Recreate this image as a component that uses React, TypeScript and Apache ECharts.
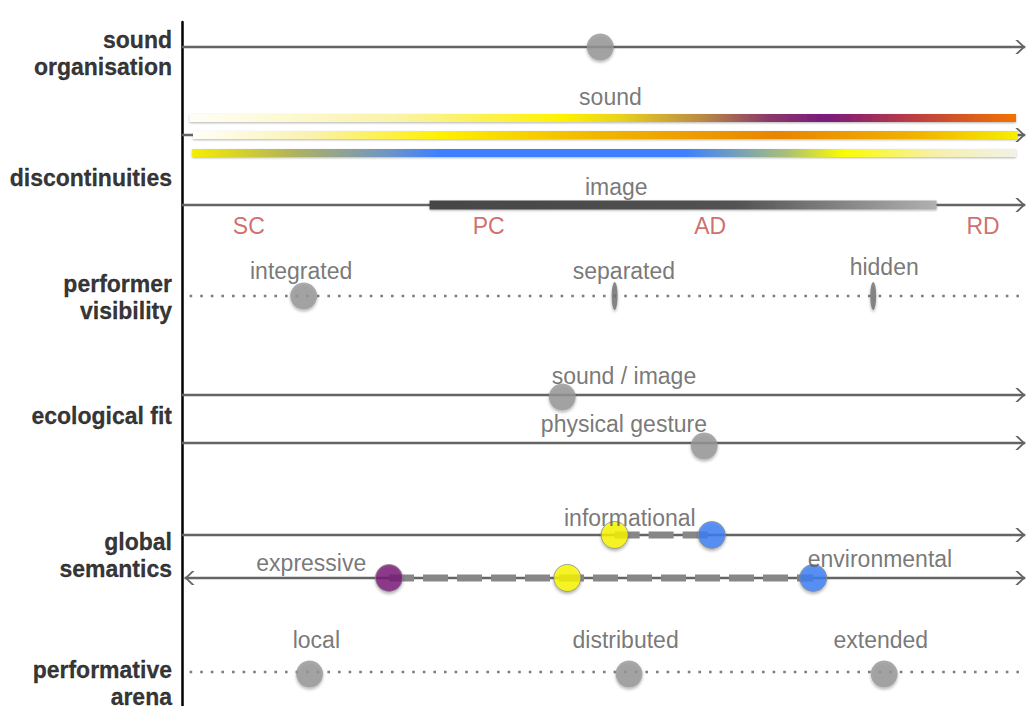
import React, { useEffect, useRef } from "react";
import * as echarts from "echarts";

// ---- data (x = position along each continuum, 0..100; y = track level on the page) ----
const rowLabels = ["sound\norganisation", "discontinuities", "performer\nvisibility", "ecological fit", "global\nsemantics", "performative\narena"];
const rowLabelY = [53, 178, 297, 416, 555, 683];

const solidTrackY = [47, 135, 205, 395, 443, 535];
const doubleArrowTrackY = [578];
const dottedTrackY = [296, 672];

const greyDotNames = ["real-time effort", "sound / image", "physical gesture", "integrated", "local", "distributed", "extended"];
const greyDotX = [49.5, 45.0, 61.8, 14.4, 15.1, 52.9, 83.1];
const greyDotY = [47, 397, 446, 296, 674, 674, 674];

const slimMarkerNames = ["separated", "hidden"];
const slimMarkerX = [51.2, 81.8];
const slimMarkerY = [296, 296];

const informationalX = [51.2, 62.7];
const informationalY = 535;
const expressiveX = [24.5, 45.6, 74.7];
const expressiveY = 578;
const semanticColours = ["yellow", "blue", "purple", "yellow", "blue"];

const bandStart = [0.9, 1.3, 1.2];
const bandEnd = [98.7, 98.9, 98.7];
const bandY = [118, 135, 153];

const imageBar = [29.3, 89.3, 205];

const textLabels = ["real-time effort", "sound", "image", "integrated", "separated", "hidden", "sound / image", "physical gesture", "informational", "expressive", "environmental", "local", "distributed", "extended"];
const textLabelX = [50.4, 50.7, 51.4, 14.1, 52.3, 83.1, 52.3, 52.3, 53.0, 15.3, 82.6, 15.9, 52.5, 82.7];
const textLabelY = [19, 97, 187, 271, 271, 267, 376, 424, 518, 563, 559, 640, 640, 640];

const stageLabels = ["SC", "PC", "AD", "RD"];
const stageX = [7.9, 36.3, 62.5, 94.8];
const stageY = 226;

// ---- styles ----
const BAND_STOPS = [
  [[0, "#fffef6"], [0.25, "#faf3a8"], [0.45, "#fff200"], [0.52, "#ead21e"], [0.62, "#b98a45"], [0.7, "#8a3a6a"], [0.77, "#7a1a7c"], [0.86, "#b4384c"], [1, "#f27300"]],
  [[0, "#fffff8"], [0.14, "#faf2b0"], [0.3, "#fff000"], [0.48, "#f2b900"], [0.71, "#e98500"], [0.88, "#f1b400"], [1, "#f7ee00"]],
  [[0, "#f5ee00"], [0.12, "#b3b35a"], [0.24, "#6d94c8"], [0.3, "#3d80ff"], [0.6, "#3d80ff"], [0.72, "#a9be78"], [0.79, "#fbfb00"], [0.9, "#f6f0a8"], [1, "#f2f2e6"]],
];
const IMAGE_STOPS = [[0, "#464646"], [0.6, "#525252"], [1, "#b0b0b0"]];
const COLOURS: Record<string, string> = { yellow: "#fbf700", blue: "#3b80f6", purple: "#7a1a78" };
const LINE_COLOR = "#646464";
const CHEVRON = "path://M0,0 L2.6,0 L10,7 L2.6,14 L0,14 L7.4,7 Z";
const FONT = "'Liberation Sans', Arial, Helvetica, sans-serif";

const dotShadow = { shadowColor: "rgba(0,0,0,0.35)", shadowBlur: 3, shadowOffsetY: 2 };

function buildOption() {
  const series: any[] = [];
  const END = 99.8;

  solidTrackY.forEach((y, i) => {
    series.push({
      type: "line", name: "track" + i, z: 2, showSymbol: true, silent: true,
      lineStyle: { color: LINE_COLOR, width: 2.5 },
      itemStyle: { color: LINE_COLOR },
      data: [
        { value: [0, y], symbol: "none" },
        { value: [END, y], symbol: CHEVRON, symbolSize: [10, 14], symbolOffset: [-5, 0] },
      ],
    });
  });
  doubleArrowTrackY.forEach((y, i) => {
    series.push({
      type: "line", name: "dtrack" + i, z: 2, showSymbol: true, silent: true,
      lineStyle: { color: LINE_COLOR, width: 2.5 },
      itemStyle: { color: LINE_COLOR },
      data: [
        { value: [0.3, y], symbol: CHEVRON, symbolSize: [10, 14], symbolRotate: 180, symbolOffset: [5, 0] },
        { value: [END, y], symbol: CHEVRON, symbolSize: [10, 14], symbolOffset: [-5, 0] },
      ],
    });
  });
  dottedTrackY.forEach((y, i) => {
    series.push({
      type: "line", name: "dotted" + i, z: 2, showSymbol: false, silent: true,
      lineStyle: { color: "#7c7c7c", width: 2.6, type: [2.6, 8] },
      data: [[0.9, y], [100, y]],
    });
  });

  // gradient bands
  series.push({
    type: "custom", name: "bands", z: 3, silent: true,
    data: bandStart.map((s, i) => [s, bandEnd[i], bandY[i]]),
    renderItem: (params: any, api: any) => {
      const a = api.coord([api.value(0), api.value(2)]);
      const b = api.coord([api.value(1), api.value(2)]);
      const h = 8;
      return {
        type: "rect",
        shape: { x: a[0], y: a[1] - h / 2, width: b[0] - a[0], height: h },
        style: {
          fill: new echarts.graphic.LinearGradient(0, 0, 1, 0, BAND_STOPS[params.dataIndex].map(([offset, color]) => ({ offset, color })) as any),
          shadowColor: "rgba(0,0,0,0.3)", shadowBlur: 2, shadowOffsetY: 1,
        },
      };
    },
  });
  // image bar
  series.push({
    type: "custom", name: "imageBar", z: 3, silent: true,
    data: [imageBar],
    renderItem: (_p: any, api: any) => {
      const a = api.coord([api.value(0), api.value(2)]);
      const b = api.coord([api.value(1), api.value(2)]);
      const h = 9;
      return {
        type: "rect",
        shape: { x: a[0], y: a[1] - h / 2, width: b[0] - a[0], height: h },
        style: {
          fill: new echarts.graphic.LinearGradient(0, 0, 1, 0, IMAGE_STOPS.map(([offset, color]) => ({ offset, color })) as any),
          shadowColor: "rgba(0,0,0,0.3)", shadowBlur: 2, shadowOffsetY: 1,
        },
      };
    },
  });

  // dashed connectors
  const dash = { color: "#878787", width: 7, type: [25, 9], cap: "butt" };
  series.push({
    type: "line", name: "informationalLink", z: 4, showSymbol: false, silent: true,
    lineStyle: dash, data: [[informationalX[0], informationalY], [informationalX[1], informationalY]],
  });
  series.push({
    type: "line", name: "expressiveLink", z: 4, showSymbol: false, silent: true,
    lineStyle: dash, data: [[expressiveX[0], expressiveY], [expressiveX[expressiveX.length - 1], expressiveY]],
  });

  // grey dots
  series.push({
    type: "scatter", name: "greyDots", z: 5, symbolSize: 27, silent: true,
    itemStyle: { color: "#979797", ...dotShadow },
    data: greyDotX.map((x, i) => ({ name: greyDotNames[i], value: [x, greyDotY[i]] })),
  });
  series.push({
    type: "scatter", name: "slimMarkers", z: 5, symbol: "circle", symbolSize: [6, 28], silent: true,
    itemStyle: { color: "#707070", ...dotShadow },
    data: slimMarkerX.map((x, i) => ({ name: slimMarkerNames[i], value: [x, slimMarkerY[i]] })),
  });
  const semPts = [
    ...informationalX.map((x) => [x, informationalY]),
    ...expressiveX.map((x) => [x, expressiveY]),
  ];
  series.push({
    type: "scatter", name: "semantics", z: 6, symbolSize: 27, silent: true,
    data: semPts.map((p, i) => ({
      value: p,
      itemStyle: { color: COLOURS[semanticColours[i]], borderColor: "#8a8a8a", borderWidth: 1, ...dotShadow },
    })),
  });

  // text labels
  series.push({
    type: "scatter", name: "texts", z: 7, symbolSize: 0, silent: true,
    label: { show: true, position: "inside", formatter: "{b}", color: "#555", fontSize: 23, fontFamily: FONT },
    data: textLabels.map((t, i) => ({ name: t, value: [textLabelX[i], textLabelY[i]] })),
  });
  series.push({
    type: "scatter", name: "stages", z: 7, symbolSize: 0, silent: true,
    label: { show: true, position: "inside", formatter: "{b}", color: "#c24a48", fontSize: 23, fontFamily: FONT },
    data: stageLabels.map((t, i) => ({ name: t, value: [stageX[i], stageY] })),
  });
  series.push({
    type: "scatter", name: "rows", z: 7, symbolSize: 0, silent: true,
    label: {
      show: true, position: "left", distance: 10, formatter: "{b}", color: "#000", fontSize: 23, fontWeight: "bold",
      fontFamily: FONT, align: "right", lineHeight: 27, textBorderColor: "#000", textBorderWidth: 0.3,
    },
    data: rowLabels.map((t, i) => ({ name: t, value: [0, rowLabelY[i]] })),
  });

  return {
    animation: false,
    backgroundColor: "#ffffff",
    grid: { left: 182, right: 0, top: 22, bottom: 0, containLabel: false },
    xAxis: { type: "value", min: 0, max: 100, show: false },
    yAxis: {
      type: "value", min: 22, max: 706, inverse: true,
      axisLine: { show: true, onZero: false, lineStyle: { color: "#000", width: 2.5 } },
      axisTick: { show: false }, axisLabel: { show: false }, splitLine: { show: false },
    },
    series,
  };
}

export default function App() {
  const ref = useRef<HTMLDivElement>(null);
  useEffect(() => {
    if (!ref.current) return;
    const chart = echarts.init(ref.current, undefined, { renderer: "svg" });
    chart.setOption(buildOption() as any);
    return () => chart.dispose();
  }, []);
  return <div ref={ref} style={{ position: "fixed", left: 0, top: 0, width: 1027, height: 706, background: "#fff" }} />;
}
